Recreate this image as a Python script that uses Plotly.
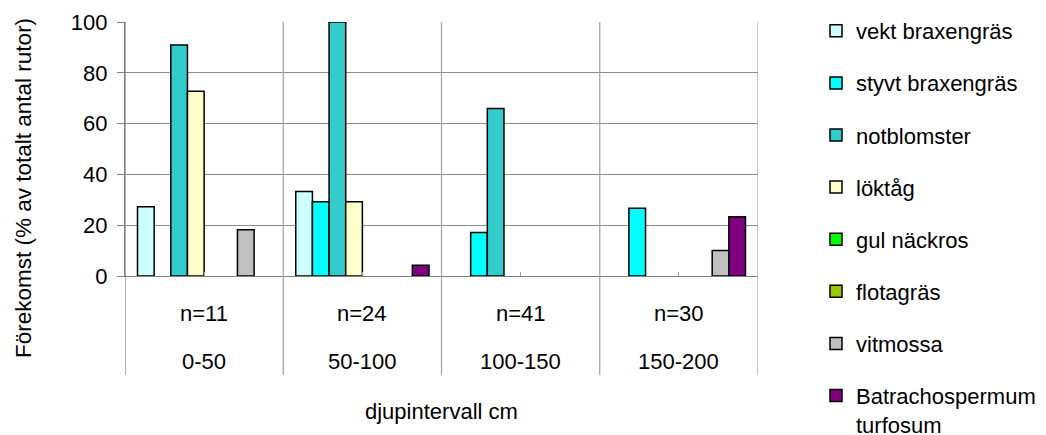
import plotly.graph_objects as go

depth = ["0-50", "50-100", "100-150", "150-200"]
n_labels = ["n=11", "n=24", "n=41", "n=30"]

series_names = ["vekt braxengräs", "styvt braxengräs", "notblomster", "löktåg",
                "gul näckros", "flotagräs", "vitmossa", "Batrachospermum<br>turfosum"]
vekt = [27.3, 33.3, None, None]
styvt = [None, 29.2, 17.1, 26.7]
notblomster = [90.9, 100.0, 65.9, None]
loktag = [72.7, 29.2, None, None]
gul = [None, None, None, None]
flotagras = [None, None, None, None]
vitmossa = [18.2, None, None, 10.0]
batracho = [None, 4.2, None, 23.3]
series_values = [vekt, styvt, notblomster, loktag, gul, flotagras, vitmossa, batracho]
colors = ["#CCFFFF", "#00FFFF", "#33CCCC", "#FFFFCC", "#00FF00", "#99CC00", "#C0C0C0", "#800080"]

FONT = "Liberation Sans, Arial, sans-serif"
FS = 22

fig = go.Figure()
for i, (name, vals, col) in enumerate(zip(series_names, series_values, colors)):
    fig.add_trace(go.Bar(
        x=depth, y=vals, name=name, legendgroup=f"g{i}",
        marker=dict(color=col, line=dict(color="#000000", width=1.5)),
    ))

L, R, T, B = 125, 288, 22, 159
W, H = 1046, 435
plot_h = H - T - B
plot_w = W - L - R

def py(px):
    return (H - B - px) / plot_h

shapes = []
for k in range(len(depth) + 1):
    xv = k - 0.5
    shapes.append(dict(type="line", xref="x", yref="paper", x0=xv, x1=xv,
                       y0=py(375), y1=1,
                       line=dict(color="#808080" if k == 0 else "#A6A6A6", width=1.3)))

annotations = []
for i, d in enumerate(depth):
    annotations.append(dict(x=d, y=py(313), xref="x", yref="paper", text=n_labels[i],
                            xanchor="center", yanchor="middle",
                            showarrow=False, font=dict(family=FONT, size=FS, color="#000")))
    annotations.append(dict(x=d, y=py(361), xref="x", yref="paper", text=d,
                            xanchor="center", yanchor="middle",
                            showarrow=False, font=dict(family=FONT, size=FS, color="#000")))
annotations.append(dict(x=0.5, y=py(411), xref="paper", yref="paper", text="djupintervall cm",
                        xanchor="center", yanchor="middle",
                        showarrow=False, font=dict(family=FONT, size=FS, color="#000")))
annotations.append(dict(x=(23 - L) / plot_w, y=py(188), xref="paper", yref="paper",
                        text="Förekomst (% av totalt antal rutor)", textangle=-90,
                        xanchor="center", yanchor="middle",
                        showarrow=False, font=dict(family=FONT, size=22.5, color="#000")))

fig.update_layout(
    width=W, height=H,
    margin=dict(l=L, r=R, t=T, b=B, autoexpand=False),
    paper_bgcolor="white", plot_bgcolor="white",
    barmode="group", bargap=0.158, bargroupgap=0,
    font=dict(family=FONT, size=FS, color="#000"),
    showlegend=True,
    legend=dict(x=(816 - L) / plot_w, xanchor="left", y=py(10), yanchor="top",
                tracegroupgap=20.5, traceorder="grouped", maxheight=800, valign="top",
                font=dict(family=FONT, size=FS, color="#000"),
                bgcolor="rgba(0,0,0,0)", itemclick=False),
    shapes=shapes, annotations=annotations,
)
fig.update_xaxes(type="category", range=[-0.5, 3.5], showticklabels=False,
                 showgrid=False, showline=True, linecolor="#808080", linewidth=1.3,
                 ticks="inside", ticklen=4, tickcolor="#A0A0A0", zeroline=False)
fig.update_yaxes(range=[0, 100], dtick=20, showgrid=True, gridcolor="#8C8C8C", gridwidth=1,
                 showline=True, linecolor="#808080", linewidth=1.3, ticks="outside",
                 ticklen=7, tickcolor="#808080", zeroline=False, ticklabelstandoff=5,
                 tickfont=dict(family=FONT, size=FS, color="#000"))

fig.write_html("out.html", config={"displayModeBar": False},
               post_script="document.body.style.margin='0';")
